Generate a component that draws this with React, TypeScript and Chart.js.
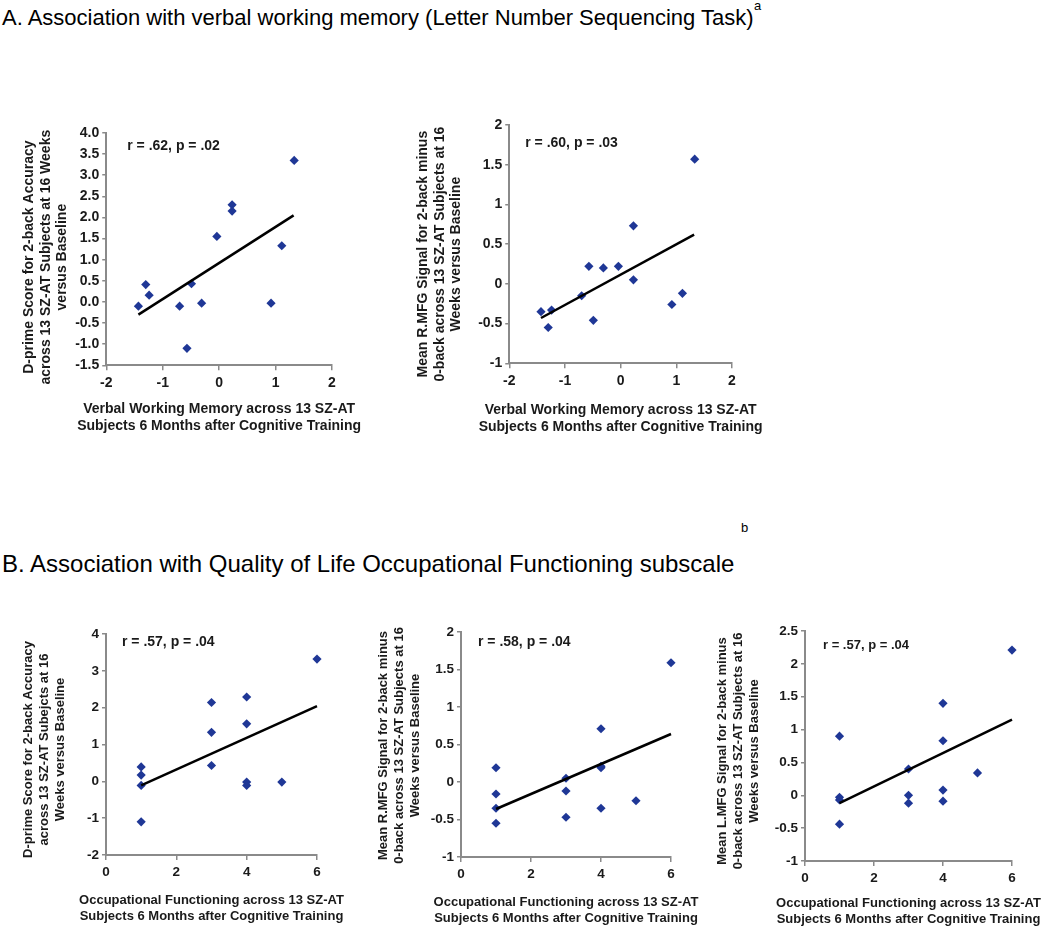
import React, { useEffect, useRef } from "react";
import { Chart, registerables } from "chart.js";

Chart.register(...registerables);

// ---------- data ----------
// Panel A: Letter Number Sequencing (verbal working memory) z-scores, 13 SZ-AT subjects
const lnsScores = [-1.43, -1.3, -1.24, -0.7, -0.57, -0.49, -0.31, -0.04, 0.23, 0.23, 0.92, 1.11, 1.33];
const dprimeA = [-0.1, 0.41, 0.16, -0.1, -1.1, 0.43, -0.03, 1.55, 2.3, 2.15, -0.03, 1.33, 3.35];
const rmfgA = [-0.35, -0.55, -0.33, -0.15, 0.22, -0.46, 0.2, 0.22, 0.73, 0.05, -0.26, -0.12, 1.57];

// Panel B: Quality of Life occupational functioning
const occFunc = [1, 1, 1, 1, 3, 3, 3, 4, 4, 4, 4, 5, 6];
const dprimeB = [0.39, 0.17, -0.11, -1.1, 2.14, 1.33, 0.43, 2.29, 1.56, -0.02, -0.11, -0.02, 3.32];
const rmfgB = [0.19, -0.16, -0.35, -0.55, 0.05, -0.12, -0.47, 0.71, 0.21, 0.19, -0.35, -0.25, 1.59];
const lmfgB = [0.9, -0.03, -0.07, -0.44, 0.4, 0.0, -0.12, 1.4, 0.83, 0.08, -0.09, 0.34, 2.21];

// Fitted regression lines (end points)
const trendA1X = [-1.43, 1.32];
const trendA1Y = [-0.3, 2.05];
const trendA2X = [-1.43, 1.32];
const trendA2Y = [-0.43, 0.62];
const trendBX = [1, 6];
const trendB1Y = [-0.11, 2.04];
const trendB2Y = [-0.36, 0.64];
const trendB3Y = [-0.12, 1.15];

// Statistics labels
const notesA = ["r = .62, p = .02", "r = .60, p = .03"];
const notesB = ["r = .57, p = .04", "r = .58, p = .04", "r = .57, p = .04"];

// Axis ranges [min, max, step]
const xRangeA = [-2, 2, 1];
const xRangeB = [0, 6, 2];
const yRangeA1 = [-1.5, 4, 0.5];
const yRangeA2 = [-1, 2, 0.5];
const yRangeB1 = [-2, 4, 1];
const yRangeB2 = [-1, 2, 0.5];
const yRangeB3 = [-1, 2.5, 0.5];

// Titles
const figTitleA = "A. Association with verbal working memory (Letter Number Sequencing Task)";
const figTitleB = "B. Association with Quality of Life Occupational Functioning subscale";
const xTitleA = ["Verbal Working Memory across 13 SZ-AT", "Subjects 6 Months after Cognitive Training"];
const xTitleB = ["Occupational Functioning across 13 SZ-AT", "Subjects 6 Months after Cognitive Training"];
const yTitleA1 = ["D-prime Score for 2-back Accuracy", "across 13 SZ-AT Subjects at 16 Weeks", "versus Baseline"];
const yTitleA2 = ["Mean R.MFG Signal for 2-back minus", "0-back across 13 SZ-AT Subjects at 16", "Weeks versus Baseline"];
const yTitleB1 = ["D-prime Score for 2-back Accuracy", "across 13 SZ-AT Subejcts at 16", "Weeks versus Baseline"];
const yTitleB2 = ["Mean R.MFG Signal for 2-back minus", "0-back across 13 SZ-AT Subjects at 16", "Weeks versus Baseline"];
const yTitleB3 = ["Mean L.MFG Signal for 2-back minus", "0-back across 13 SZ-AT Subjects at 16", "Weeks versus Baseline"];

// ---------- styling / layout ----------
const FONT = '"Liberation Sans", Arial, Helvetica, sans-serif';
const BLUE = "#1f3796";
const AXIS = "#8a8a8a";
const TEXT = "#1a1a1a";

type Panel = {
  pl: number; pt: number; pr: number; pb: number;
  yTitleX: number; yTitleDy: number; xTitleY: number; lh: number;
  titleSize: number; tickSize: number; noteSize: number;
  noteDx: number; noteDy: number;
  xs: number[]; ys: number[]; tx: number[]; ty: number[];
  xRange: number[]; yRange: number[]; yFixed: boolean;
  xTitle: string[]; yTitle: string[]; note: string;
};

const panels: Panel[] = [
  {
    pl: 106, pt: 133, pr: 332, pb: 365, yTitleX: 29, yTitleDy: 8, xTitleY: 409, lh: 16.5,
    titleSize: 14, tickSize: 14, noteSize: 14, noteDx: 21, noteDy: 13,
    xs: lnsScores, ys: dprimeA, tx: trendA1X, ty: trendA1Y,
    xRange: xRangeA, yRange: yRangeA1, yFixed: true,
    xTitle: xTitleA, yTitle: yTitleA1, note: notesA[0],
  },
  {
    pl: 509, pt: 125, pr: 732, pb: 363, yTitleX: 423, yTitleDy: 10, xTitleY: 410, lh: 16.5,
    titleSize: 14, tickSize: 14, noteSize: 14, noteDx: 16, noteDy: 18,
    xs: lnsScores, ys: rmfgA, tx: trendA2X, ty: trendA2Y,
    xRange: xRangeA, yRange: yRangeA2, yFixed: false,
    xTitle: xTitleA, yTitle: yTitleA2, note: notesA[1],
  },
  {
    pl: 106, pt: 634, pr: 317, pb: 855, yTitleX: 28, yTitleDy: 5, xTitleY: 900, lh: 16,
    titleSize: 13, tickSize: 13.5, noteSize: 14, noteDx: 16, noteDy: 8,
    xs: occFunc, ys: dprimeB, tx: trendBX, ty: trendB1Y,
    xRange: xRangeB, yRange: yRangeB1, yFixed: false,
    xTitle: xTitleB, yTitle: yTitleB1, note: notesB[0],
  },
  {
    pl: 461, pt: 632, pr: 671, pb: 857, yTitleX: 383, yTitleDy: 1, xTitleY: 902, lh: 16,
    titleSize: 13, tickSize: 13.5, noteSize: 14, noteDx: 17, noteDy: 10,
    xs: occFunc, ys: rmfgB, tx: trendBX, ty: trendB2Y,
    xRange: xRangeB, yRange: yRangeB2, yFixed: false,
    xTitle: xTitleB, yTitle: yTitleB2, note: notesB[1],
  },
  {
    pl: 805, pt: 631, pr: 1012, pb: 861, yTitleX: 722, yTitleDy: 5, xTitleY: 903, lh: 16,
    titleSize: 13, tickSize: 13.5, noteSize: 13, noteDx: 18, noteDy: 14,
    xs: occFunc, ys: lmfgB, tx: trendBX, ty: trendB3Y,
    xRange: xRangeB, yRange: yRangeB3, yFixed: false,
    xTitle: xTitleB, yTitle: yTitleB3, note: notesB[2],
  },
];

const PAD_T = 16;
const PAD_R = 40;

function ScatterPanel({ p }: { p: Panel }) {
  const ref = useRef<HTMLCanvasElement>(null);
  const canvasLeft = p.yTitleX - p.lh / 2 - 4;
  const yWidth = p.pl - canvasLeft;
  const xHeight = p.xTitleY - p.pb + 1.5 * p.lh + 4;
  const canvasTop = p.pt - PAD_T;
  const width = Math.round(p.pr + PAD_R - canvasLeft);
  const height = Math.round(PAD_T + (p.pb - p.pt) + xHeight);

  useEffect(() => {
    const textPlugin = {
      id: "panelText",
      afterDraw(chart: any) {
        const { ctx, chartArea } = chart;
        ctx.save();
        ctx.fillStyle = TEXT;
        ctx.textBaseline = "middle";
        // statistics note
        ctx.font = `bold ${p.noteSize}px ${FONT}`;
        ctx.textAlign = "left";
        ctx.fillText(p.note, chartArea.left + p.noteDx, chartArea.top + p.noteDy);
        // axis titles
        ctx.font = `bold ${p.titleSize}px ${FONT}`;
        ctx.textAlign = "center";
        const cx = (chartArea.left + chartArea.right) / 2;
        const xy0 = chartArea.bottom + (p.xTitleY - p.pb);
        p.xTitle.forEach((line, i) => ctx.fillText(line, cx, xy0 + i * p.lh));
        const cy = (chartArea.top + chartArea.bottom) / 2 + p.yTitleDy;
        const yx0 = chartArea.left - (p.pl - p.yTitleX);
        p.yTitle.forEach((line, i) => {
          ctx.save();
          ctx.translate(yx0 + i * p.lh, cy);
          ctx.rotate(-Math.PI / 2);
          ctx.fillText(line, 0, 0);
          ctx.restore();
        });
        ctx.restore();
      },
    };
    const tickFont = { family: FONT, size: p.tickSize, weight: "bold" as const };
    const chart = new Chart(ref.current!, {
      type: "scatter",
      data: {
        datasets: [
          {
            data: p.tx.map((x, i) => ({ x, y: p.ty[i] })),
            showLine: true,
            pointRadius: 0,
            borderColor: "#000",
            borderWidth: 2.5,
            clip: false as any,
            order: 0,
          },
          {
            data: p.xs.map((x, i) => ({ x, y: p.ys[i] })),
            pointStyle: "rectRot",
            pointRadius: 4.6,
            backgroundColor: BLUE,
            borderColor: BLUE,
            borderWidth: 0,
            clip: false as any,
            order: 1,
          },
        ],
      },
      options: {
        responsive: false,
        animation: false,
        devicePixelRatio: 1,
        layout: { padding: { top: PAD_T, right: PAD_R, left: 0, bottom: 0 } },
        plugins: { legend: { display: false }, tooltip: { enabled: false } },
        events: [],
        scales: {
          x: {
            type: "linear",
            min: p.xRange[0],
            max: p.xRange[1],
            afterFit: (s: any) => { s.height = xHeight; },
            ticks: {
              stepSize: p.xRange[2],
              font: tickFont,
              color: TEXT,
              padding: 4,
              callback: (v: any) => String(v),
            },
            grid: { drawOnChartArea: false, drawTicks: true, tickLength: 5, color: AXIS, lineWidth: 1.5 },
            border: { display: true, color: AXIS, width: 2 },
            title: { display: false },
          },
          y: {
            type: "linear",
            min: p.yRange[0],
            max: p.yRange[1],
            afterFit: (s: any) => { s.width = yWidth; },
            ticks: {
              stepSize: p.yRange[2],
              font: tickFont,
              color: TEXT,
              padding: 3,
              callback: (v: any) => (p.yFixed ? Number(v).toFixed(1) : String(Math.round(Number(v) * 10) / 10)),
            },
            grid: { drawOnChartArea: false, drawTicks: true, tickLength: 4, color: AXIS, lineWidth: 1.5 },
            border: { display: true, color: AXIS, width: 2 },
            title: { display: false },
          },
        },
      },
      plugins: [textPlugin],
    } as any);
    return () => chart.destroy();
  }, []);

  return (
    <canvas
      ref={ref}
      width={width}
      height={height}
      style={{ position: "absolute", left: canvasLeft, top: canvasTop, width, height }}
    />
  );
}

export default function App() {
  const titleStyle: React.CSSProperties = {
    position: "absolute",
    fontFamily: FONT,
    lineHeight: 1,
    color: "#000",
    whiteSpace: "nowrap",
    margin: 0,
  };
  const supStyle: React.CSSProperties = {
    position: "absolute",
    fontFamily: FONT,
    fontSize: 13,
    lineHeight: "13px",
    color: "#000",
  };
  return (
    <div style={{ position: "absolute", left: 0, top: 0, width: 1050, height: 926, background: "#fff", overflow: "hidden" }}>
      <div style={{ ...titleStyle, fontSize: 22, left: 2, top: 7 }}>{figTitleA}</div>
      <div style={{ ...supStyle, left: 754, top: -1 }}>a</div>
      <div style={{ ...titleStyle, fontSize: 24, left: 2, top: 552 }}>{figTitleB}</div>
      <div style={{ ...supStyle, left: 741, top: 521 }}>b</div>
      {panels.map((p, i) => (
        <ScatterPanel key={i} p={p} />
      ))}
    </div>
  );
}
